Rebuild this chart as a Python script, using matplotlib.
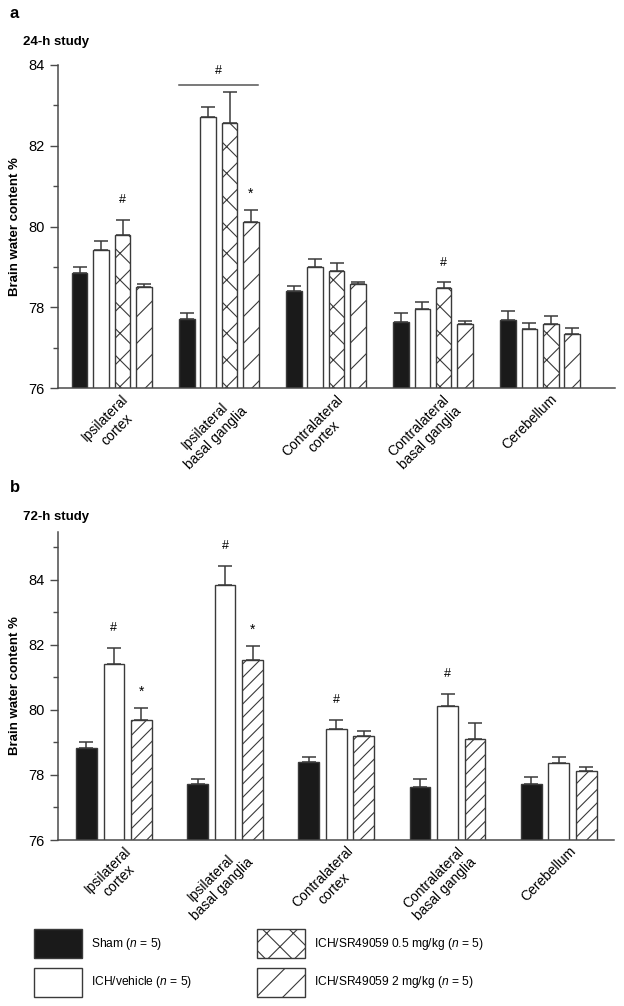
import matplotlib
matplotlib.use("Agg")
import matplotlib.pyplot as plt
import numpy as np
from matplotlib.patches import Rectangle

plt.rcParams["font.family"] = ["Liberation Sans", "DejaVu Sans"]
plt.rcParams["mathtext.fontset"] = "custom"
plt.rcParams["mathtext.it"] = "Liberation Sans:italic"
plt.rcParams["mathtext.rm"] = "Liberation Sans"

regions = ["Ipsilateral\ncortex", "Ipsilateral\nbasal ganglia", "Contralateral\ncortex",
           "Contralateral\nbasal ganglia", "Cerebellum"]

# 24-h study (panel a): mean and upper SEM
a_sham = [78.85, 77.71, 78.41, 77.63, 77.70]
a_sham_err = [0.16, 0.16, 0.12, 0.24, 0.21]
a_veh = [79.42, 82.72, 78.99, 77.96, 77.47]
a_veh_err = [0.23, 0.25, 0.20, 0.17, 0.15]
a_low = [79.79, 82.57, 78.90, 78.47, 77.60]
a_low_err = [0.38, 0.77, 0.19, 0.15, 0.19]
a_high = [78.50, 80.11, 78.57, 77.58, 77.34]
a_high_err = [0.08, 0.30, 0.07, 0.09, 0.14]

# 72-h study (panel b)
b_sham = [78.84, 77.72, 78.40, 77.64, 77.71]
b_sham_err = [0.18, 0.16, 0.14, 0.22, 0.22]
b_veh = [81.40, 83.83, 79.40, 80.13, 78.35]
b_veh_err = [0.51, 0.59, 0.30, 0.35, 0.21]
b_high = [79.68, 81.52, 79.18, 79.10, 78.12]
b_high_err = [0.36, 0.44, 0.17, 0.49, 0.13]

# significance marks: (group, bar index, symbol)
a_marks = [(0, 2, "#"), (1, 3, "*"), (3, 2, "#")]
b_marks = [(0, 1, "#"), (0, 2, "*"), (1, 1, "#"), (1, 2, "*"), (2, 1, "#"), (3, 1, "#")]

legend_labels = [r"Sham ($n$ = 5)", r"ICH/vehicle ($n$ = 5)",
                 r"ICH/SR49059 0.5 mg/kg ($n$ = 5)", r"ICH/SR49059 2 mg/kg ($n$ = 5)"]

EDGE = "#3a3a3a"
BLACK = "#1a1a1a"

# render at 80 dpi so the hatch spacing comes out closer to the print;
# every size given in points is scaled by S to keep pixel sizes unchanged
DPI = 80
S = 100 / DPI
plt.rcParams["hatch.linewidth"] = 0.8 * S

W, H = 624, 1006
fig = plt.figure(figsize=(W / DPI, H / DPI), dpi=DPI)


def px_axes(x0, y0, x1, y1):
    return fig.add_axes([x0 / W, 1 - y1 / H, (x1 - x0) / W, (y1 - y0) / H])


def style_axis(ax, ylim, xlim):
    ax.set_ylim(*ylim)
    ax.set_xlim(*xlim)
    for s in ("top", "right"):
        ax.spines[s].set_visible(False)
    for s in ("left", "bottom"):
        ax.spines[s].set_color("#4a4a4a")
        ax.spines[s].set_linewidth(1.1 * S)
    ax.set_yticks([76, 78, 80, 82, 84])
    ax.set_yticks(np.arange(77, ylim[1], 2), minor=True)
    ax.tick_params(axis="y", which="major", length=6 * S, width=1.0 * S, color="#4a4a4a",
                   labelsize=10.5 * S, pad=4 * S)
    ax.tick_params(axis="y", which="minor", length=3.5 * S, width=1.0 * S, color="#4a4a4a")
    ax.set_xticks([])
    ax.set_ylabel("Brain water content %", fontsize=9.5 * S, fontweight="bold",
                  labelpad=5 * S)
    for g, lab in enumerate(regions):
        ax.text(g + 0.09, -0.012, lab, transform=ax.get_xaxis_transform(), rotation=45,
                rotation_mode="anchor", ha="right", va="top", multialignment="center",
                fontsize=10 * S)


def draw_bars(ax, series, step, width, marks):
    x = np.arange(len(regions))
    n = len(series)
    tops = []
    for i, (fc, vals, errs, hatch) in enumerate(series):
        xs = x + (i - (n - 1) / 2) * step
        ax.bar(xs, vals, width=width, bottom=0, color=fc, edgecolor=EDGE,
               linewidth=1.0 * S, hatch=hatch, zorder=2)
        ax.errorbar(xs, vals, yerr=[np.zeros(len(vals)), errs], fmt="none", ecolor=EDGE,
                    elinewidth=1.1 * S, capsize=5 * S, capthick=1.1 * S, zorder=1)
        tops.append((xs, np.array(vals) + np.array(errs)))
    for g, i, sym in marks:
        xs, top = tops[i]
        off = 12 if sym == "#" else 9
        ax.annotate(sym, (xs[g], top[g]), xytext=(0, off * S), textcoords="offset points",
                    ha="center", va="baseline", fontsize=(9 if sym == "#" else 10) * S)


# panel a
ax = px_axes(58.3, 65, 615, 388.3)
style_axis(ax, (76, 84), (-0.5, 4.7))
draw_bars(ax, [(BLACK, a_sham, a_sham_err, None), ("white", a_veh, a_veh_err, None),
               ("white", a_low, a_low_err, "x"), ("white", a_high, a_high_err, "/")],
          0.2, 0.145, a_marks)
ax.plot([1 - 0.37, 1 + 0.37], [83.51, 83.51], color="#555555", lw=1.1 * S, clip_on=False)
ax.annotate("#", (1, 83.51), xytext=(0, 8 * S), textcoords="offset points",
            ha="center", va="baseline", fontsize=9 * S)

# panel b
ax = px_axes(58.3, 531.7, 614.3, 840)
style_axis(ax, (76, 85.47), (-0.5, 4.5))
draw_bars(ax, [(BLACK, b_sham, b_sham_err, None), ("white", b_veh, b_veh_err, None),
               ("white", b_high, b_high_err, "//")],
          0.247, 0.186, b_marks)

# overlay for panel letters, titles and legend (pixel coordinates)
ov = fig.add_axes([0, 0, 1, 1], zorder=-1)
ov.set_xlim(0, W)
ov.set_ylim(H, 0)
ov.axis("off")
ov.text(10, 13, "a", fontsize=12 * S, fontweight="bold", va="center")
ov.text(23, 42, "24-h study", fontsize=9.5 * S, fontweight="bold", va="center")
ov.text(10, 488, "b", fontsize=12 * S, fontweight="bold", va="center")
ov.text(23, 517, "72-h study", fontsize=9.5 * S, fontweight="bold", va="center")

boxes = [(34, 929, BLACK, None), (34, 968, "white", None),
         (257, 929, "white", "x"), (257, 968, "white", "/")]
for (bx, by, fc, hatch), lab in zip(boxes, legend_labels):
    ov.add_patch(Rectangle((bx, by), 48, 29, facecolor=fc, edgecolor=EDGE,
                           linewidth=1.0 * S, hatch=hatch))
    ov.text(bx + 57, by + 14.5, lab, fontsize=8.6 * S, va="center")

fig.savefig("out.png", dpi=DPI)
